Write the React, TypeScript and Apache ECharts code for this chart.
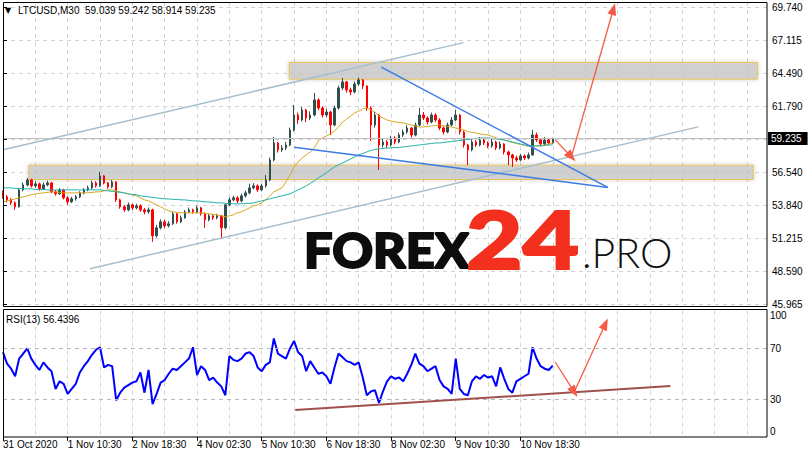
import React, { useEffect, useRef } from 'react';
import * as echarts from 'echarts';

// ---------- DATA ----------
const symbolTitle = 'LTCUSD,M30';
const headerValues = '59.039 59.242 58.914 59.235';
const rsiTitle = 'RSI(13) 56.4396';
const lastPrice = 59.235;
const firstOpen = 54.9;

const closes = [
  54.55, 54.31, 54.07, 53.75, 55.11, 55.51, 55.91, 55.43, 55.59, 55.19,
  55.51, 55.67, 54.95, 54.79, 55.11, 54.47, 54.15, 54.39, 54.55, 54.87,
  55.11, 55.27, 55.67, 55.43, 56.23, 55.67, 55.35, 55.75, 54.31, 53.75,
  53.51, 53.91, 53.67, 53.83, 53.51, 53.35, 53.51, 51.43, 52.07, 52.55,
  52.23, 52.39, 53.19, 52.55, 52.87, 53.35, 53.51, 53.35, 53.67, 53.19,
  52.71, 53.03, 52.87, 53.03, 52.07, 53.91, 54.31, 54.47, 54.23, 54.63,
  54.87, 55.27, 55.43, 55.11, 55.43, 55.91, 57.51, 58.87, 58.31, 58.47,
  58.71, 59.91, 61.11, 60.71, 61.51, 60.87, 61.11, 62.32, 61.67, 61.11,
  61.35, 60.31, 61.67, 63.28, 63.76, 63.12, 62.96, 63.6, 63.92, 63.44,
  61.67, 60.31, 61.11, 58.71, 58.95, 58.71, 59.27, 58.95, 59.51, 59.75,
  60.07, 59.51, 60.31, 61.11, 60.87, 60.55, 61.11, 60.71, 60.07, 59.75,
  60.31, 60.71, 61.11, 59.75, 58.71, 58.31, 58.95, 58.71, 59.11, 58.87,
  58.63, 58.95, 58.47, 58.79, 58.15, 57.91, 57.67, 57.51, 57.83, 57.67,
  57.91, 59.51, 59.11, 58.79, 59.11, 58.87, 59.235,
];

const highs = [
  55.05, 54.7, 54.45, 54.2, 55.25, 55.7, 56.07, 56.0, 55.8, 55.7,
  55.7, 55.85, 55.75, 55.1, 55.25, 55.2, 54.6, 54.55, 54.7, 55.0,
  55.25, 55.45, 55.85, 55.8, 56.55, 56.3, 55.75, 55.9, 55.8, 54.4,
  53.9, 54.1, 54.0, 54.0, 53.95, 53.65, 53.7, 53.6, 52.3, 52.75,
  52.7, 52.6, 53.35, 53.25, 53.05, 53.5, 53.7, 53.6, 53.85, 53.75,
  53.3, 53.2, 53.15, 53.2, 53.1, 54.05, 54.5, 54.65, 54.6, 54.8,
  55.05, 55.6, 55.65, 55.55, 55.6, 56.3, 57.7, 59.35, 58.95, 58.7,
  58.95, 60.1, 61.92, 61.3, 61.75, 61.6, 61.4, 62.88, 62.45, 61.8,
  61.6, 61.45, 61.85, 63.45, 64.08, 63.85, 63.3, 63.8, 64.1, 64.0,
  63.5, 61.8, 61.35, 61.2, 59.25, 59.1, 59.45, 59.4, 59.7, 59.95,
  60.3, 60.15, 60.5, 61.67, 61.35, 61.0, 61.3, 61.25, 60.85, 60.2,
  60.5, 60.95, 61.51, 61.2, 59.85, 58.8, 59.15, 59.1, 59.35, 59.25,
  59.0, 59.2, 59.05, 59.0, 58.85, 58.25, 58.0, 57.85, 58.0, 57.95,
  58.1, 59.91, 59.7, 59.2, 59.35, 59.25, 59.3,
];

const lows = [
  54.4, 54.1, 53.9, 53.51, 53.7, 55.0, 55.4, 55.3, 55.3, 55.05,
  55.1, 55.4, 54.85, 54.65, 54.7, 54.35, 53.91, 54.05, 54.25, 54.45,
  54.75, 55.0, 55.15, 55.3, 55.35, 55.55, 55.2, 55.25, 54.15, 53.6,
  53.35, 53.4, 53.5, 53.55, 53.35, 53.15, 53.2, 50.95, 51.3, 51.95,
  52.05, 52.1, 52.3, 52.4, 52.45, 52.8, 53.25, 53.2, 53.25, 53.05,
  52.07, 52.6, 52.7, 52.75, 51.19, 51.95, 53.8, 54.2, 54.05, 54.1,
  54.5, 54.75, 55.15, 54.95, 55.0, 55.3, 55.8, 57.4, 58.1, 58.15,
  58.3, 58.6, 59.8, 60.4, 60.6, 60.55, 60.7, 61.0, 61.5, 60.9,
  60.95, 59.51, 60.2, 61.55, 63.1, 62.9, 62.7, 62.85, 63.45, 63.2,
  61.45, 59.03, 60.1, 56.71, 58.5, 58.45, 58.6, 58.75, 58.85, 59.35,
  59.6, 59.3, 59.4, 60.2, 60.7, 60.35, 60.45, 60.55, 59.9, 59.55,
  59.65, 60.2, 60.6, 59.55, 58.5, 57.11, 58.2, 58.55, 58.6, 58.7,
  58.45, 58.5, 58.3, 58.35, 57.95, 57.11, 56.95, 57.35, 57.4, 57.5,
  57.55, 57.85, 58.95, 58.6, 58.65, 58.7, 58.8,
];

const maFast = [
  54.15, 54.23, 54.31, 54.39, 54.47, 54.55, 54.63, 54.71, 54.79, 54.83,
  54.87, 54.91, 54.95, 54.95, 54.91, 54.87, 54.87, 54.87, 54.87, 54.87,
  54.87, 54.87, 54.91, 54.95, 54.95, 55.03, 55.11, 55.11, 55.03, 54.95,
  54.87, 54.79, 54.71, 54.63, 54.47, 54.31, 54.23, 54.07, 53.91, 53.75,
  53.59, 53.43, 53.35, 53.31, 53.27, 53.27, 53.27, 53.27, 53.27, 53.27,
  53.23, 53.19, 53.15, 53.11, 53.03, 52.95, 53.03, 53.11, 53.27, 53.35,
  53.51, 53.67, 53.83, 53.91, 54.07, 54.31, 54.63, 54.95, 55.11, 55.27,
  55.75, 56.31, 56.95, 57.35, 57.67, 57.91, 58.15, 58.47, 59.03, 59.27,
  59.43, 59.59, 59.83, 60.15, 60.55, 60.79, 61.03, 61.27, 61.43, 61.59,
  61.67, 61.51, 61.35, 61.03, 60.87, 60.71, 60.63, 60.55, 60.51, 60.47,
  60.39, 60.31, 60.23, 60.15, 60.15, 60.19, 60.23, 60.27, 60.31, 60.23,
  60.19, 60.15, 60.07, 59.99, 59.91, 59.79, 59.71, 59.67, 59.59, 59.55,
  59.51, 59.39, 59.27, 59.19, 59.11, 58.99, 58.91, 58.83, 58.75, 58.67,
  58.59, 58.59, 58.63, 58.67, 58.71, 58.79, 58.87,
];

const maSlow = [
  55.27, 55.27, 55.27, 55.23, 55.23, 55.19, 55.19, 55.19, 55.15, 55.15,
  55.15, 55.11, 55.11, 55.11, 55.11, 55.11, 55.11, 55.11, 55.11, 55.11,
  55.11, 55.11, 55.11, 55.11, 55.11, 55.07, 55.03, 54.99, 54.95, 54.91,
  54.87, 54.79, 54.75, 54.71, 54.63, 54.59, 54.55, 54.51, 54.47, 54.43,
  54.39, 54.39, 54.35, 54.35, 54.31, 54.31, 54.27, 54.23, 54.23, 54.19,
  54.15, 54.15, 54.11, 54.07, 54.07, 54.03, 54.03, 53.99, 53.99, 53.99,
  54.03, 54.03, 54.07, 54.15, 54.23, 54.31, 54.39, 54.47, 54.55, 54.63,
  54.71, 54.79, 54.95, 55.11, 55.27, 55.43, 55.63, 55.83, 56.07, 56.27,
  56.47, 56.71, 56.95, 57.11, 57.27, 57.43, 57.59, 57.75, 57.91, 58.03,
  58.15, 58.27, 58.35, 58.39, 58.43, 58.47, 58.47, 58.51, 58.51, 58.55,
  58.59, 58.63, 58.67, 58.71, 58.75, 58.79, 58.83, 58.87, 58.87, 58.91,
  58.95, 58.99, 59.03, 59.07, 59.11, 59.15, 59.19, 59.23, 59.27, 59.27,
  59.27, 59.23, 59.19, 59.15, 59.11, 59.03, 58.95, 58.87, 58.79, 58.71,
  58.67, 58.63, 58.63, 58.63, 58.67, 58.71, 58.71,
];

const rsi = [
  67, 58, 54, 48, 62, 66, 70, 62, 57, 53,
  59, 55, 52, 38, 44, 42, 34, 38, 42, 51,
  56, 60, 65, 69, 71, 55, 57, 56, 29, 35,
  39, 41, 43, 44, 51, 35, 53, 26, 34, 43,
  45, 50, 54, 53, 56, 59, 62, 71, 49, 56,
  53, 45, 47, 43, 40, 33, 64, 61, 60, 62,
  66, 67, 64, 55, 52, 57, 59, 78, 66, 64,
  62, 70, 76, 67, 64, 52, 60, 55, 50, 51,
  48, 42, 55, 66, 63, 60, 59, 57, 59, 47,
  33, 36, 37, 27, 36, 44, 48, 46, 47, 44,
  50, 57, 66, 58, 56, 52, 54, 56, 45, 40,
  38, 34, 62, 38, 34, 33, 44, 48, 46, 49,
  47, 48, 40, 55, 46, 38, 35, 44, 46, 48,
  50, 71, 62, 56, 54, 53, 56.44,
];

const xTickLabels = [
  '31 Oct 2020', '1 Nov 10:30', '2 Nov 18:30', '4 Nov 02:30', '5 Nov 10:30',
  '6 Nov 18:30', '8 Nov 02:30', '9 Nov 10:30', '10 Nov 18:30',
];
const priceTicks = [45.965, 48.607, 51.248, 53.89, 56.532, 59.173, 61.815, 64.457, 67.098, 69.74];
const priceTickLabels = ['45.965', '48.590', '51.215', '53.840', '56.540', '', '61.790', '64.490', '67.115', '69.740'];
const rsiTicks = [0, 30, 70, 100];
const rsiLevels = [30, 70];

// drawn objects, in data space: [barIndex, price]
const channelLines = [
  [[0, 58.32], [113.9, 66.91]],
  [[21.5, 48.79], [172.0, 60.16]],
];
const wedgeLines = [
  [[93.6, 64.94], [149.6, 55.31]],
  [[72.0, 58.53], [149.6, 55.31]],
];
const zones = [
  [70.8, 65.32, 186.6, 63.98],
  [6.4, 57.09, 185.6, 55.94],
];
const priceArrows = [
  [[136.6, 59.12], [140.6, 57.76]],
  [[140.6, 57.76], [151.0, 69.6]],
];
const rsiSupport = [[72.3, 21.3], [165.1, 40.3]];
const rsiArrows = [
  [[136.6, 59.3], [141.3, 35.6]],
  [[141.3, 35.6], [149.0, 89.4]],
];

// ---------- CHART ----------
const SLOTS = 190;
const FONT = '"Liberation Sans", Arial, sans-serif';
const GRID = '#d4d4d4';
const BULL = '#2f4f4f';
const BEAR = '#ff0000';

function seg(a: number[], b: number[], color: string, width: number, arrow = false) {
  return [
    { coord: a, symbol: 'none', lineStyle: { color, width, type: 'solid' } },
    { coord: b, symbol: arrow ? 'triangle' : 'none', symbolSize: arrow ? [9, 12] : 0 },
  ];
}

function buildOption() {
  const cats = Array.from({ length: SLOTS }, (_, i) => String(i));
  const ohlc = closes.map((c, i) => [i === 0 ? firstOpen : closes[i - 1], c, lows[i], highs[i]]);
  const showTick = (i: number) => i % 16 === 0 && i / 16 < xTickLabels.length;
  const labelFmt = (v: number) => {
    const k = priceTicks.findIndex((t) => Math.abs(t - v) < 0.01);
    return k >= 0 ? priceTickLabels[k] : '';
  };
  const RED = '#f65a46';
  return {
    animation: false,
    backgroundColor: '#ffffff',
    grid: [
      { left: 3, right: 41, top: 2, height: 305, outerBoundsMode: 'none' },
      { left: 3, right: 41, top: 310.6, height: 126.3, outerBoundsMode: 'none' },
    ],
    xAxis: [
      {
        type: 'category', gridIndex: 0, data: cats, boundaryGap: false,
        axisLine: { show: false }, axisTick: { show: false }, axisLabel: { show: false },
        splitLine: { show: true, interval: 7, lineStyle: { color: GRID, type: [4, 4], width: 1 } },
      },
      {
        type: 'category', gridIndex: 1, data: cats, boundaryGap: false,
        axisLine: { show: false },
        axisTick: { show: true, interval: (i: number) => showTick(i), length: 4, lineStyle: { color: '#000' } },
        axisLabel: {
          show: true, interval: (i: number) => showTick(i),
          formatter: (v: string) => xTickLabels[Number(v) / 16] ?? '',
          align: 'left', color: '#000', fontSize: 10, fontFamily: FONT, margin: 3,
        },
        splitLine: { show: true, interval: 7, lineStyle: { color: GRID, type: [4, 4], width: 1 } },
      },
      { type: 'value', gridIndex: 0, min: 0, max: SLOTS - 1, show: false },
      { type: 'value', gridIndex: 1, min: 0, max: SLOTS - 1, show: false },
    ],
    yAxis: [
      {
        type: 'value', gridIndex: 0, position: 'right', min: 45.725, max: 70.165, scale: true,
        axisLine: { show: false },
        axisTick: { show: true, customValues: priceTicks, length: 4, lineStyle: { color: '#000' } },
        axisLabel: {
          show: true, customValues: priceTicks.filter((_, i) => priceTickLabels[i] !== ''),
          formatter: labelFmt, color: '#000', fontSize: 10, fontFamily: FONT, margin: 5,
        },
        splitLine: { show: true, lineStyle: { color: GRID, type: [4, 4], width: 1 } },
      },
      {
        type: 'value', gridIndex: 1, position: 'right', min: 0, max: 100,
        axisLine: { show: false },
        axisTick: { show: false, customValues: rsiTicks },
        axisLabel: {
          show: true, customValues: rsiTicks, color: '#000', fontSize: 10, fontFamily: FONT, margin: 3,
          verticalAlignMinLabel: 'bottom', verticalAlignMaxLabel: 'top',
        },
        splitLine: { show: false },
      },
    ],
    series: [
      {
        type: 'candlestick', xAxisIndex: 0, yAxisIndex: 0, data: ohlc, barWidth: 2, z: 3,
        itemStyle: { color: BULL, color0: BEAR, borderColor: BULL, borderColor0: BEAR, borderWidth: 1 },
        markLine: {
          silent: true, symbol: ['none', 'none'], animation: false,
          data: [{ yAxis: lastPrice }],
          lineStyle: { color: '#c0c0c0', type: 'solid', width: 1 },
          label: {
            show: true, position: 'end', formatter: lastPrice.toFixed(3), color: '#fff',
            backgroundColor: '#000', padding: [2, 6, 1, 3], fontSize: 10, fontFamily: FONT, distance: 1,
          },
        },
      },
      {
        type: 'line', xAxisIndex: 0, yAxisIndex: 0, data: maFast, symbol: 'none', z: 4,
        lineStyle: { color: '#daa520', width: 1 },
      },
      {
        type: 'line', xAxisIndex: 0, yAxisIndex: 0, data: maSlow, symbol: 'none', z: 4,
        lineStyle: { color: '#20b2aa', width: 1 },
      },
      {
        type: 'line', xAxisIndex: 2, yAxisIndex: 0, data: [], z: 5,
        markArea: {
          silent: true,
          itemStyle: {
            color: 'rgba(200,200,200,0.72)', borderColor: '#e8c35a', borderWidth: 1,
            shadowBlur: 4, shadowColor: 'rgba(0,0,0,0.25)',
          },
          data: zones.map((z) => [{ coord: [z[0], z[1]] }, { coord: [z[2], z[3]] }]),
        },
        markLine: {
          silent: true, animation: false, symbol: ['none', 'none'], label: { show: false },
          data: [
            ...channelLines.map((l) => seg(l[0], l[1], '#a6bece', 1.5)),
            ...wedgeLines.map((l) => seg(l[0], l[1], '#3b7be6', 1.5)),
            ...priceArrows.map((l) => seg(l[0], l[1], RED, 1.3, true)),
          ],
        },
      },
      {
        type: 'line', xAxisIndex: 1, yAxisIndex: 1, data: rsi, symbol: 'none', z: 4,
        lineStyle: { color: '#0000ff', width: 2 },
        markLine: {
          silent: true, animation: false, symbol: ['none', 'none'], label: { show: false },
          lineStyle: { color: '#b8b8b8', type: [4, 4], width: 1 },
          data: rsiLevels.map((v) => ({ yAxis: v })),
        },
      },
      {
        type: 'line', xAxisIndex: 3, yAxisIndex: 1, data: [], z: 5,
        markLine: {
          silent: true, animation: false, symbol: ['none', 'none'], label: { show: false },
          data: [
            seg(rsiSupport[0], rsiSupport[1], '#a0504d', 2),
            ...rsiArrows.map((l) => seg(l[0], l[1], RED, 1.3, true)),
          ],
        },
      },
    ],
    graphic: [
      { type: 'rect', silent: true, z: 100, shape: { x: 3.5, y: 2.5, width: 763.5, height: 304 }, style: { fill: 'none', stroke: '#000', lineWidth: 1 } },
      { type: 'rect', silent: true, z: 100, shape: { x: 3.5, y: 309.5, width: 763.5, height: 127.5 }, style: { fill: 'none', stroke: '#000', lineWidth: 1 } },
      { type: 'text', silent: true, z: 100, x: 5, y: 10.5, style: { text: '▼', fontSize: 8, fontFamily: '"DejaVu Sans"', fill: '#000', verticalAlign: 'middle' } },
      { type: 'text', silent: true, z: 100, x: 18, y: 10.5, style: { text: symbolTitle, fontSize: 10, fontFamily: FONT, fill: '#000', verticalAlign: 'middle' } },
      { type: 'text', silent: true, z: 100, x: 85, y: 10.5, style: { text: headerValues, fontSize: 10, fontFamily: FONT, fill: '#000', verticalAlign: 'middle' } },
      { type: 'text', silent: true, z: 100, x: 6, y: 319, style: { text: rsiTitle, fontSize: 10, fontFamily: FONT, fill: '#000', verticalAlign: 'middle' } },
      { type: 'text', silent: true, z: 1, x: 304, y: 249, scaleX: 1.05, style: { text: 'FOREX', fontSize: 48, fontWeight: 900, fontFamily: 'Lato', fill: '#0d0d0d', stroke: '#0d0d0d', lineWidth: 2, verticalAlign: 'middle' } },
      { type: 'text', silent: true, z: 1, x: 466, y: 238, scaleX: 1.22, style: { text: '24', fontSize: 80, fontWeight: 900, fontFamily: 'Lato', fill: '#f2301d', stroke: '#f2301d', lineWidth: 2, verticalAlign: 'middle' } },
      { type: 'text', silent: true, z: 1, x: 582, y: 252, style: { text: '.PRO', fontSize: 41, fontWeight: 300, fontFamily: 'Lato', fill: '#111', verticalAlign: 'middle' } },
    ],
  };
}

export default function App() {
  const ref = useRef<HTMLDivElement>(null);
  useEffect(() => {
    if (!ref.current) return;
    const chart = echarts.init(ref.current, null, { renderer: 'svg' });
    chart.setOption(buildOption() as any);
    return () => chart.dispose();
  }, []);
  return (
    <div
      ref={ref}
      style={{ position: 'fixed', left: 0, top: 0, width: 808, height: 458, background: '#fff' }}
    />
  );
}
